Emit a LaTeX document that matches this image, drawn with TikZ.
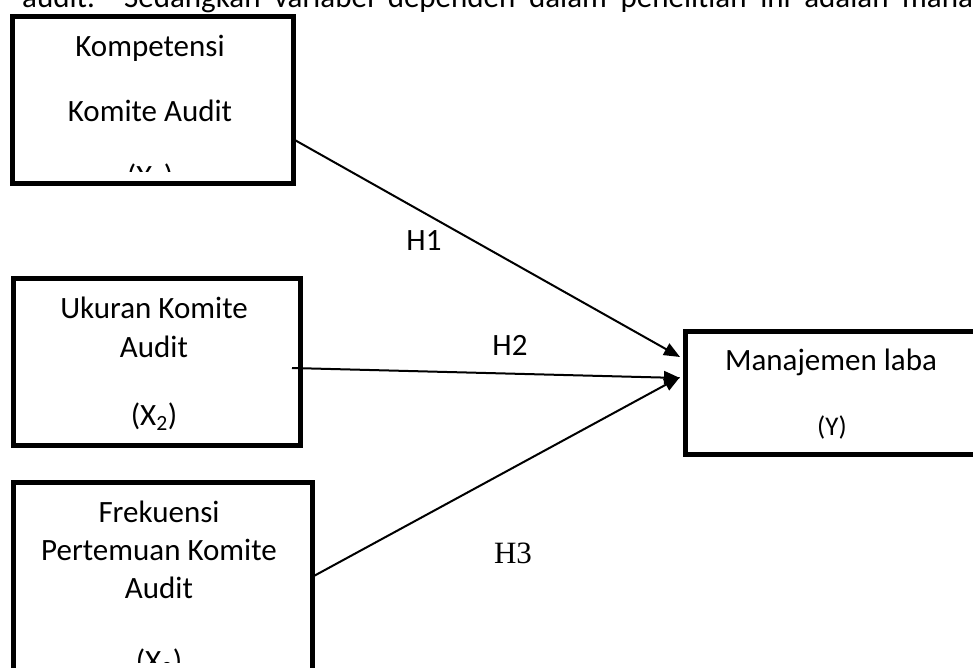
\documentclass[tikz,border=0pt]{standalone}
\usepackage{fontspec}
\setmainfont{Carlito}
\newfontfamily\timesfont{Liberation Serif}
\usetikzlibrary{arrows.meta}
\begin{document}
\begin{tikzpicture}[x=1pt,y=-1pt,
  box/.style={draw,line width=5pt,rectangle,inner sep=0pt,anchor=north west},
  lbl/.style={anchor=base,inner sep=0pt,font=\fontsize{31}{37}\selectfont},
  smalllbl/.style={anchor=base,inner sep=0pt,font=\fontsize{27}{32}\selectfont},
  arr/.style={line width=2pt,-{Triangle[length=16pt,width=13pt]}}]
\useasboundingbox (0,0) rectangle (973,668);
\clip (0,0) rectangle (973,668);
\fill[white] (0,0) rectangle (973,668);

% cut-off paragraph line at the top
\node[lbl,anchor=base west] (para) at (22,8) {\makebox[951pt][s]{audit. Sedangkan variabel dependen dalam penelitian ini adalah mana}};

% boxes
\node[box,minimum width=281pt,minimum height=167.5pt] (k1) at (10,14) {};
\node[box,minimum width=287pt,minimum height=167.5pt] (k2) at (10.5,275.5) {};
\node[box,minimum width=299.5pt,minimum height=220pt] (k3) at (10.5,480) {};
\node[box,minimum width=320pt,minimum height=123pt] (ky) at (682.5,328.5) {};

% box 1 text
\node[lbl] (t1a) at (150,57) {Kompetensi};
\node[lbl] (t1b) at (150,122) {Komite Audit};
\begin{scope}
  \clip (10,14) rectangle (291,172);
  \node[lbl] (t1c) at (150,187) {(X\textsubscript{1})};
\end{scope}

% box 2 text
\node[lbl] (t2a) at (154,318) {Ukuran Komite};
\node[lbl] (t2b) at (154,357) {Audit};
\node[lbl] (t2c) at (154,425) {(X\textsubscript{2})};

% box 3 text
\node[lbl] (t3a) at (159,522) {Frekuensi};
\node[lbl] (t3b) at (159,560) {Pertemuan Komite};
\node[lbl] (t3c) at (159,598) {Audit};
\begin{scope}
  \clip (10,480) rectangle (310,662);
  \node[lbl] (t3d) at (159,671) {(X\textsubscript{2})};
\end{scope}

% box Y text
\node[lbl] (tya) at (831,370) {Manajemen laba};
\node[smalllbl] (tyb) at (832,435) {(Y)};

% connector end points
\coordinate (s1) at (293,139);
\coordinate (s2) at (292,368);
\coordinate (s3) at (312,577);
\coordinate (e1) at (680,357);
\coordinate (e2) at (680,378);
\coordinate (e3) at (680,377);

\draw[arr] (s1) -- (e1);
\draw[arr] (s2) -- (e2);
\draw[arr] (s3) -- (e3);

% labels
\node[lbl] (h1) at (424,250) {H1};
\node[lbl] (h2) at (510,355) {H2};
\node[lbl,font=\fontsize{31}{37}\timesfont] (h3) at (513,563) {H3};
\end{tikzpicture}
\end{document}
